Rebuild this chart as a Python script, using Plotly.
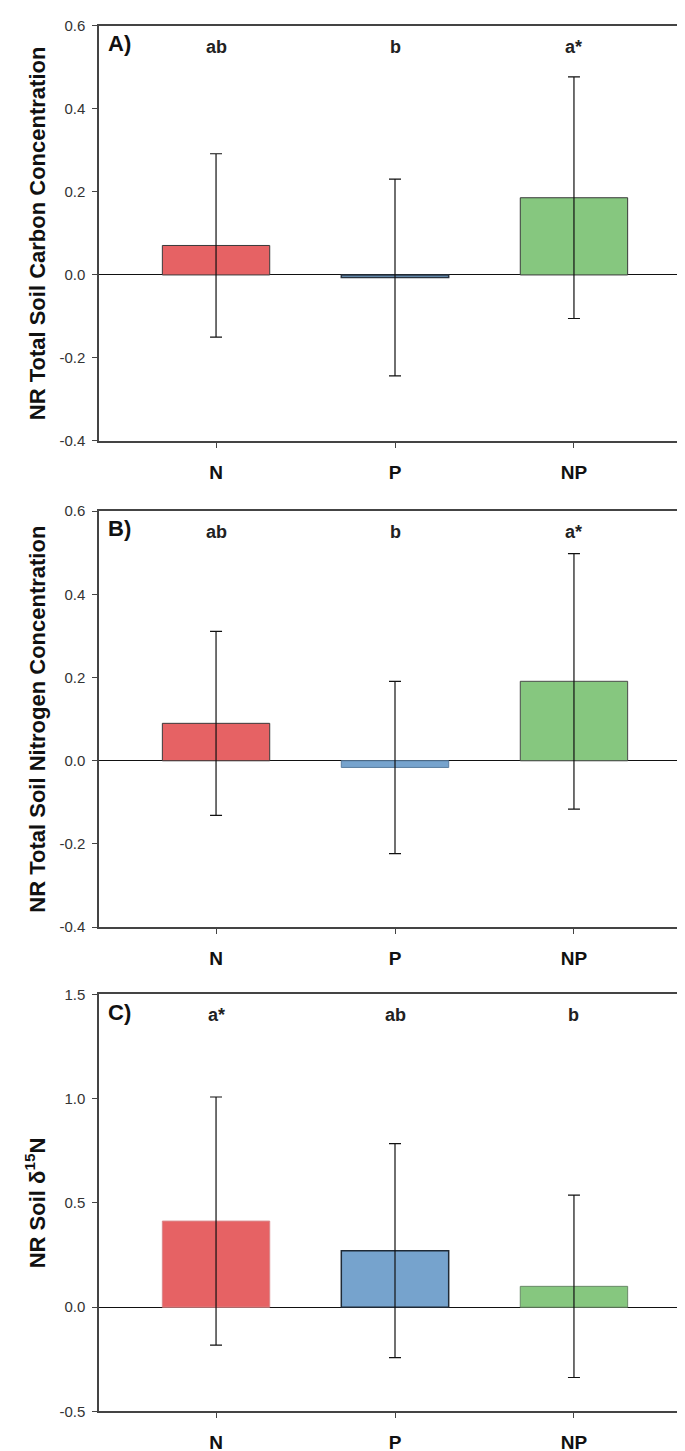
import plotly.graph_objects as go

categories = ["N", "P", "NP"]
bar_colors = ["#E66264", "#76A3CD", "#86C77F"]

carbon_values = [0.071, -0.006, 0.186]
carbon_errors = [0.221, 0.237, 0.291]
carbon_letters = ["ab", "b", "a*"]

nitrogen_values = [0.090, -0.016, 0.191]
nitrogen_errors = [0.221, 0.207, 0.307]
nitrogen_letters = ["ab", "b", "a*"]

d15n_values = [0.413, 0.271, 0.100]
d15n_errors = [0.595, 0.513, 0.437]
d15n_letters = ["a*", "ab", "b"]

ticks_ab = [-0.4, -0.2, 0.0, 0.2, 0.4, 0.6]
ticks_c = [-0.5, 0.0, 0.5, 1.0, 1.5]

panels = [
    dict(values=carbon_values, errors=carbon_errors, letters=carbon_letters, label="A)",
         title="NR Total Soil Carbon Concentration", rng=[-0.4, 0.6], ticks=ticks_ab,
         dom=[1 - 429 / 1451, 1 - 9 / 1451],
         outline=["#3a3a3a", "#2a3440", "#3a3a3a"], olw=[1, 1.5, 1]),
    dict(values=nitrogen_values, errors=nitrogen_errors, letters=nitrogen_letters, label="B)",
         title="NR Total Soil Nitrogen Concentration", rng=[-0.4, 0.6], ticks=ticks_ab,
         dom=[1 - 921 / 1451, 1 - 500 / 1451],
         outline=["#3a3a3a", "#5a7d9f", "#4a4a4a"], olw=[1, 1, 1]),
    dict(values=d15n_values, errors=d15n_errors, letters=d15n_letters, label="C)",
         title="NR Soil δ<sup>15</sup>N", rng=[-0.5, 1.5], ticks=ticks_c,
         dom=[1 - 1411 / 1451, 1 - 989 / 1451],
         outline=["#d98a8c", "#1f2a36", "#6a8a68"], olw=[1, 1.5, 1]),
]

FONT = "Arial, Liberation Sans, sans-serif"
fig = go.Figure()
layout = dict(
    width=685, height=1451,
    margin=dict(l=0, r=0, t=0, b=0),
    paper_bgcolor="white", plot_bgcolor="white",
    showlegend=False,
    font=dict(family=FONT, color="#222"),
)
annotations = []
xdom = [91 / 685, 683 / 685]
for i, p in enumerate(panels):
    k = "" if i == 0 else str(i + 1)
    fig.add_trace(go.Bar(
        x=categories, y=p["values"],
        marker=dict(color=bar_colors, line=dict(color=p["outline"], width=p["olw"])),
        error_y=dict(type="data", array=p["errors"], visible=True,
                     color="#111111", thickness=1.2, width=6),
        width=0.6,
        xaxis="x" + k, yaxis="y" + k,
    ))
    layout["xaxis" + k] = dict(
        domain=xdom, anchor="y" + k, range=[-0.654, 2.654],
        showline=True, mirror=True, linecolor="#444", linewidth=1.5,
        ticks="outside", ticklen=5, tickcolor="#444",
        tickfont=dict(size=19, family=FONT, color="#111"),
        ticklabelstandoff=8, showgrid=False,
        tickmode="array", tickvals=categories, ticktext=["<b>%s</b>" % c for c in categories],
    )
    layout["yaxis" + k] = dict(
        domain=p["dom"], anchor="x" + k, range=p["rng"],
        tickmode="array", tickvals=p["ticks"], ticktext=["%.1f" % t for t in p["ticks"]],
        showline=True, mirror=True, linecolor="#444", linewidth=1.5,
        ticks="outside", ticklen=5, tickcolor="#444", ticklabelstandoff=4,
        tickfont=dict(size=15, family=FONT, color="#333"),
        showgrid=False, zeroline=True, zerolinecolor="#111", zerolinewidth=1.2,
        title=dict(text="<b>%s</b>" % p["title"], font=dict(size=22, family=FONT, color="#111"),
                   standoff=8),
    )
    for c, t in zip(categories, p["letters"]):
        annotations.append(dict(
            x=c, y=1 - 21 / 421, xref="x" + k, yref="y%s domain" % k,
            text="<b>%s</b>" % t, showarrow=False, yanchor="middle",
            font=dict(size=18, family=FONT, color="#222"),
        ))
    annotations.append(dict(
        x=0.012, y=1 - 18 / 421, xref="x%s domain" % k, yref="y%s domain" % k,
        text="<b>%s</b>" % p["label"], showarrow=False, xanchor="left", yanchor="middle",
        font=dict(size=22, family=FONT, color="#111"),
    ))

layout["annotations"] = annotations
fig.update_layout(**layout)
fig.write_html("out.html")
